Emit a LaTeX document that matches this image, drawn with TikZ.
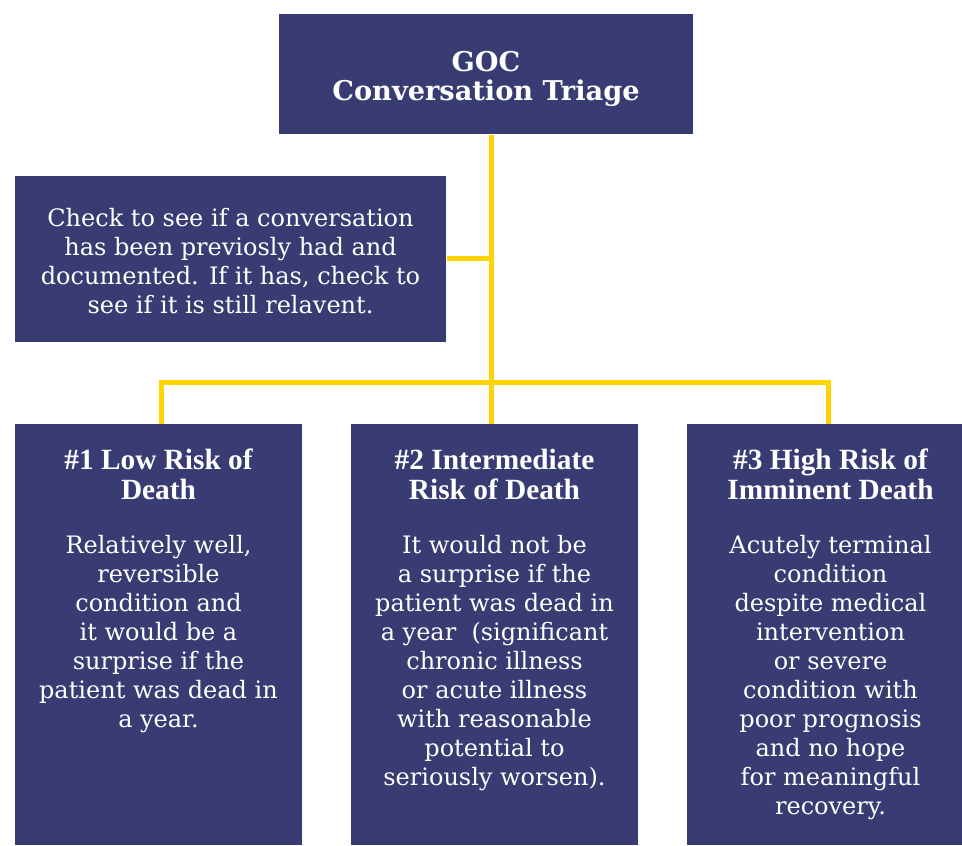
\documentclass[tikz,border=0pt]{standalone}
\usepackage{fontspec}
\setmainfont{DejaVu Serif}
\newfontfamily\headfont{Liberation Serif}
\definecolor{navy}{RGB}{56,60,115}
\definecolor{gold}{RGB}{255,212,0}
\begin{document}
\begin{tikzpicture}[x=0.75pt,y=-0.75pt,
  box/.style={fill=navy, draw=none, inner sep=0, anchor=north west},
  link/.style={draw=gold, line width=3.75pt, line join=miter},
  bodytxt/.style={text=white, align=center, inner sep=0, anchor=base,
    font=\fontsize{18}{21.75}\selectfont},
  headtxt/.style={text=white, align=center, inner sep=0, anchor=base,
    font=\headfont\bfseries\fontsize{22}{22.5}\selectfont},
  titletxt/.style={text=white, align=center, inner sep=0, anchor=base,
    font=\bfseries\fontsize{20.4}{22}\selectfont}]
\useasboundingbox (0,0) rectangle (962,845);
% boxes
\node[box, minimum width=310.5pt, minimum height=90pt] (top) at (279,14) {};
\node[box, minimum width=323.25pt, minimum height=124.5pt] (left) at (15,176) {};
\node[box, minimum width=215.25pt, minimum height=315.75pt] (b1) at (15,424) {};
\node[box, minimum width=215.25pt, minimum height=315.75pt] (b2) at (351,424) {};
\node[box, minimum width=206.25pt, minimum height=315.75pt] (b3) at (687,424) {};
% connectors
\coordinate (j1) at (491,258);
\coordinate (j2) at (491,382);
\coordinate (l1) at (161,382);
\coordinate (l3) at (828,382);
\draw[link] (top.south -| j1) -- (j2) -- (j2 |- b2.north);
\draw[link] (left.east |- j1) -- (j1);
\draw[link] (l1 |- b1.north) -- (l1) -- (l3) -- (l3 |- b3.north);
% texts (anchor = baseline of the last line)
\node[titletxt] (ttitle) at (486,101) {GOC\\Conversation Triage};
\node[bodytxt] (tleft) at (230.5,313) {Check to see if a conversation\\has been previosly had and\\documented. If it has, check to\\see if it is still relavent.};
\node[headtxt] (h1) at (158.5,499) {\#1 Low Risk of\\Death};
\node[headtxt] (h2) at (494.5,499) {\#2 Intermediate\\Risk of Death};
\node[headtxt] (h3) at (830.5,499) {\#3 High Risk of\\Imminent Death};
\node[bodytxt] (t1) at (158.5,727) {Relatively well,\\reversible\\condition and\\it would be a\\surprise if the\\patient was dead in\\a year.};
\node[bodytxt] (t2) at (494.5,785) {It would not be\\a surprise if the\\patient was dead in\\a year\ \ (significant\\chronic illness\\or acute illness\\with reasonable\\potential to\\seriously worsen).};
\node[bodytxt] (t3) at (830.5,814) {Acutely terminal\\condition\\despite medical\\intervention\\or severe\\condition with\\poor prognosis\\and no hope\\for meaningful\\recovery.};
\end{tikzpicture}
\end{document}
